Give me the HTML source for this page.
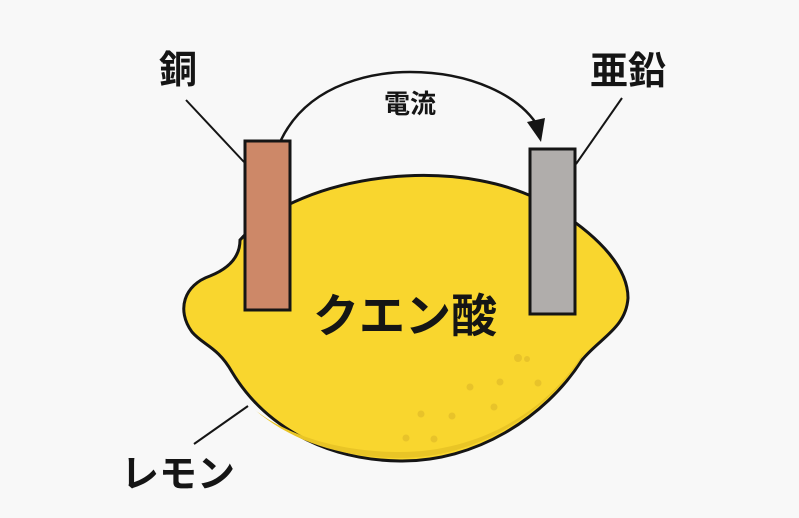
<!DOCTYPE html>
<html><head><meta charset="utf-8"><style>
html,body{margin:0;padding:0;background:#f8f8f8;}
svg{display:block}
text{font-family:"Liberation Sans","Noto Sans CJK JP",sans-serif;font-weight:bold;fill:#151515}
</style></head><body>
<svg width="799" height="518" viewBox="0 0 799 518">
<rect width="799" height="518" fill="#f8f8f8"/>
<path d="M240,240 C300,172 470,150 560,212 C600,238 628,268 628,298 C626,328 600,338 582,360 C545,418 475,462 400,461 C320,460 262,422 232,372 C218,347 203,345 192,332 C176,310 184,285 210,276 C230,268 240,256 240,240 Z" fill="#f9d62e" stroke="#151515" stroke-width="3"/>
<path d="M585,350 C550,410 480,452 400,452 C330,452 280,430 255,410 C290,440 340,458 400,458 C470,458 540,420 580,360 Z" fill="#e9c526"/>
<g fill="#e8c32a">
<circle cx="518" cy="358" r="4"/><circle cx="538" cy="383" r="3.5"/><circle cx="470" cy="387" r="3.5"/><circle cx="500" cy="382" r="3.5"/><circle cx="494" cy="407" r="3.5"/><circle cx="452" cy="416" r="3.5"/><circle cx="421" cy="414" r="3.5"/><circle cx="434" cy="439" r="3.5"/><circle cx="406" cy="438" r="3.5"/><circle cx="527" cy="359" r="3"/>
</g>
<rect x="245" y="141" width="45" height="169" fill="#cd8868" stroke="#151515" stroke-width="3"/>
<rect x="530" y="149" width="45" height="165" fill="#b0adab" stroke="#151515" stroke-width="3"/>
<path d="M281,140 C310,80 380,72 410,72 C470,72 520,95 539,128" fill="none" stroke="#151515" stroke-width="2.5"/>
<polygon points="541,142 527,122 545,118" fill="#151515"/>
<line x1="186" y1="100" x2="244" y2="162" stroke="#151515" stroke-width="2"/>
<line x1="622" y1="98" x2="576" y2="164" stroke="#151515" stroke-width="2"/>
<line x1="248" y1="406" x2="194" y2="444" stroke="#151515" stroke-width="2"/>
<text x="178" y="83" font-size="38" text-anchor="middle">銅</text>
<text x="628" y="84" font-size="38" text-anchor="middle">亜鉛</text>
<text x="410" y="113" font-size="26" text-anchor="middle">電流</text>
<text x="405" y="332" font-size="46" text-anchor="middle">クエン酸</text>
<text x="178" y="487" font-size="38" text-anchor="middle">レモン</text>
</svg>
</body></html>
